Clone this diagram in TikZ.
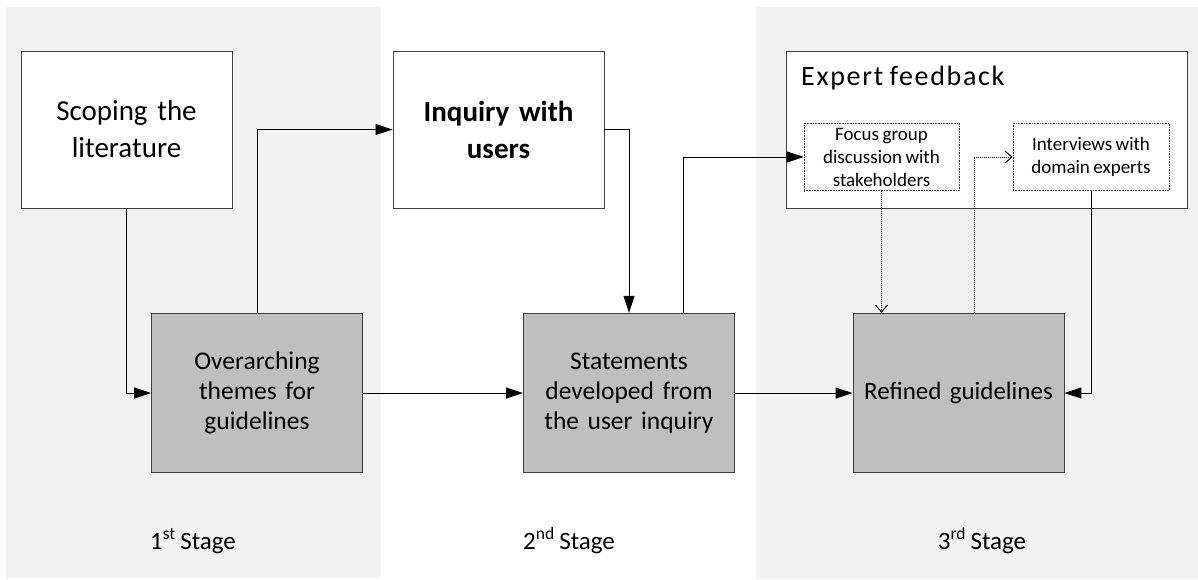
\documentclass[tikz,border=0pt]{standalone}
\usepackage{fontspec}
\setmainfont{Carlito}[WordSpace=0.8]
\newfontfamily\spacedfont[LetterSpace=6,WordSpace=0.8]{Carlito}
\usetikzlibrary{arrows.meta,calc}
\definecolor{panelgray}{HTML}{F2F2F2}
\definecolor{boxgray}{HTML}{BFBFBF}
\definecolor{edgegray}{HTML}{404040}
\begin{document}
\begin{tikzpicture}[x=1pt,y=-1pt,
  whitebox/.style={draw=edgegray,line width=0.9pt,fill=white,minimum width=211pt,minimum height=157pt,inner sep=2pt,align=center,text width=200pt},
  graybox/.style={draw=edgegray,line width=0.9pt,fill=boxgray,minimum width=211pt,minimum height=159.5pt,inner sep=2pt,align=center,text width=200pt},
  subbox/.style={draw=edgegray,densely dotted,line width=0.6pt,fill=white,minimum height=67.5pt,inner sep=2pt,align=center},
  arr/.style={line width=1pt,-{Triangle[length=17pt,width=11pt]}},
  darr/.style={line width=1pt,densely dotted,-{Straight Barb[length=7pt,width=12pt]}},
  stagelbl/.style={anchor=base,font=\fontsize{25}{30}\selectfont}
]
% canvas and stage panels
\fill[white] (0,0) rectangle (1198,579);
\fill[panelgray] (6,7) rectangle (381,578);
\fill[panelgray] (756,7) rectangle (1198,579);

% stage 1
\node[whitebox,font=\fontsize{29}{37}\selectfont] (scope) at (126.5,129.5) {Scoping the\\literature};
\node[graybox,font=\fontsize{25.5}{30}\selectfont] (over) at (257,393) {Overarching\\themes for\\guidelines};

% stage 2
\node[whitebox,font=\fontsize{29}{37}\selectfont\bfseries] (inq) at (498.5,129.5) {Inquiry with\\users};
\node[graybox,font=\fontsize{25.5}{30}\selectfont] (stat) at (629,393) {Statements\\developed from\\the user inquiry};

% stage 3
\node[draw=edgegray,line width=0.9pt,fill=white,minimum width=401pt,minimum height=157pt] (expert) at (986.5,129.5) {};
\node[anchor=base west,font=\fontsize{28}{32}\spacedfont,inner sep=0pt] (eftitle) at (801,85) {Expert feedback};
\node[subbox,minimum width=155pt,font=\fontsize{19}{23}\selectfont] (focus) at (881.5,157) {Focus group\\discussion with\\stakeholders};
\node[subbox,minimum width=156pt,font=\fontsize{19}{23}\selectfont] (interv) at (1091,157) {Interviews with\\domain experts};
\node[graybox,font=\fontsize{25}{30}\selectfont] (refined) at (958.5,393) {Refined guidelines};

% connectors
\draw[arr] (scope.south) |- (over.west);
\draw[arr] (over.north) |- (inq.west);
\draw[arr] (inq.east) -| (stat.north);
\draw[arr] (over.east) -- (stat.west);
\draw[arr] ([xshift=54pt]stat.north) |- (focus.west);
\draw[arr] (stat.east) -- (refined.west);
\draw[darr] (focus.south) -- (focus.south |- refined.north);
\draw[darr] ([xshift=15.5pt]refined.north) |- (interv.west);
\draw[arr] (interv.south) |- (refined.east);

% stage labels
\node[stagelbl] (s1) at (193,549) {1\textsuperscript{st} Stage};
\node[stagelbl] (s2) at (569,549) {2\textsuperscript{nd} Stage};
\node[stagelbl] (s3) at (982,549) {3\textsuperscript{rd} Stage};
\end{tikzpicture}
\end{document}
